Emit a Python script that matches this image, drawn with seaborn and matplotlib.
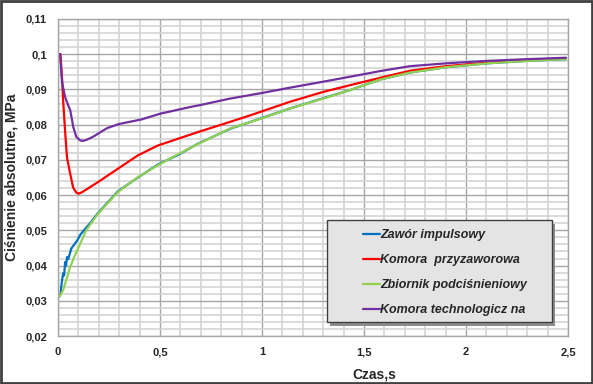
import pandas as pd
import matplotlib.pyplot as plt
import seaborn as sns
from matplotlib.patches import Rectangle
from matplotlib.ticker import MultipleLocator, FuncFormatter

# ----------------------------
# Data
# ----------------------------
t_zawor = [0, 0.005, 0.012, 0.018, 0.025, 0.03, 0.035, 0.04, 0.044, 0.05, 0.065, 0.08,
           0.095, 0.11, 0.13, 0.16, 0.196, 0.294, 0.392, 0.49, 0.588, 0.686, 0.843, 1.0,
           1.137, 1.3, 1.431, 1.578, 1.725, 1.9, 2.1, 2.3, 2.49]
p_zawor = [0.031, 0.0312, 0.0318, 0.035, 0.0378, 0.0372, 0.041, 0.040, 0.0424, 0.0418,
           0.0448, 0.046, 0.0472, 0.0488, 0.0502, 0.0522, 0.0549, 0.0611, 0.065, 0.0687,
           0.0714, 0.0746, 0.0788, 0.0819, 0.0846, 0.0875, 0.0898, 0.0928, 0.0948,
           0.0963, 0.0974, 0.0981, 0.0986]

t_komora_p = [0, 0.012, 0.02, 0.025, 0.035, 0.044, 0.06, 0.074, 0.09, 0.101, 0.12, 0.15,
              0.196, 0.294, 0.392, 0.49, 0.588, 0.686, 0.817, 0.95, 1.137, 1.3, 1.431,
              1.6, 1.725, 1.9, 2.1, 2.3, 2.42]
p_komora_p = [0.1, 0.1, 0.093, 0.087, 0.078, 0.0707, 0.066, 0.0622, 0.0607, 0.0604,
              0.0609, 0.062, 0.0637, 0.0675, 0.0713, 0.0741, 0.076, 0.0779, 0.0803,
              0.0828, 0.0865, 0.0893, 0.0912, 0.0936, 0.0953, 0.0966, 0.0976, 0.0983,
              0.0986]

t_zbiornik = [0, 0.01, 0.025, 0.04, 0.059, 0.08, 0.098, 0.14, 0.196, 0.294, 0.392, 0.49,
              0.588, 0.686, 0.843, 1.0, 1.137, 1.3, 1.431, 1.578, 1.725, 1.9, 2.1, 2.3,
              2.49]
p_zbiornik = [0.031, 0.0315, 0.033, 0.0358, 0.0395, 0.0425, 0.0448, 0.0502, 0.0547,
              0.0609, 0.0651, 0.0685, 0.0716, 0.0745, 0.0789, 0.0818, 0.0846, 0.0874,
              0.0898, 0.0928, 0.0948, 0.0963, 0.0974, 0.0981, 0.0986]

t_komora_t = [0, 0.01, 0.02, 0.035, 0.05, 0.06, 0.075, 0.09, 0.11, 0.123, 0.14, 0.17,
              0.24, 0.3, 0.41, 0.5, 0.647, 0.7, 0.843, 1.0, 1.137, 1.3, 1.431, 1.578,
              1.725, 1.9, 2.1, 2.3, 2.49]
p_komora_t = [0.1, 0.1, 0.092, 0.0878, 0.0855, 0.0841, 0.0793, 0.0765, 0.0755, 0.0754,
              0.0757, 0.0765, 0.079, 0.0802, 0.0815, 0.0831, 0.085, 0.0856, 0.0874,
              0.089, 0.0905, 0.0922, 0.0936, 0.0952, 0.0966, 0.0974, 0.0981, 0.0986,
              0.099]

series_names = ["Zawór impulsowy", "Komora  przyzaworowa",
                "Zbiornik podciśnieniowy", "Komora technologicz na"]
series_colors = ["#0070C0", "#FF0000", "#92D050", "#7030A0"]

x_ticks = [0, 0.5, 1, 1.5, 2, 2.5]
y_ticks = [0.02, 0.03, 0.04, 0.05, 0.06, 0.07, 0.08, 0.09, 0.1, 0.11]

frames = []
for name, t, p in zip(series_names,
                      [t_zawor, t_komora_p, t_zbiornik, t_komora_t],
                      [p_zawor, p_komora_p, p_zbiornik, p_komora_t]):
    frames.append(pd.DataFrame({"czas": t, "cisnienie": p, "seria": name}))
df = pd.concat(frames, ignore_index=True)

# ----------------------------
# Plot
# ----------------------------
sns.set_style("white")
plt.rcParams["font.family"] = ["Liberation Sans Narrow", "Liberation Sans", "DejaVu Sans"]

fig = plt.figure(figsize=(5.93, 3.84), dpi=100)
ax = fig.add_axes([58 / 593, 48 / 384, 510 / 593, 317 / 384])

sns.lineplot(data=df, x="czas", y="cisnienie", hue="seria", hue_order=series_names,
             palette=series_colors, sort=False, estimator=None, linewidth=1.6,
             legend=False, ax=ax)

ax.set_xlim(0, 2.5)
ax.set_ylim(0.02, 0.11)
ax.set_xticks(x_ticks)
ax.set_yticks(y_ticks)
ax.xaxis.set_minor_locator(MultipleLocator(0.1))
ax.yaxis.set_minor_locator(MultipleLocator(0.002))

fmt = FuncFormatter(lambda v, pos: ("%g" % round(v, 3)).replace(".", ","))
ax.xaxis.set_major_formatter(fmt)
ax.yaxis.set_major_formatter(fmt)

ax.grid(which="major", color="#a6a6a6", linewidth=1.0, zorder=0)
ax.grid(which="minor", color="#d4d4d4", linewidth=1.2, zorder=0)
ax.set_axisbelow(True)

for s in ax.spines.values():
    s.set_color("#a6a6a6")
    s.set_linewidth(1.0)

ax.tick_params(axis="both", which="major", length=3, color="#a6a6a6",
               labelsize=8, pad=5)
ax.tick_params(axis="both", which="minor", length=0)
for lab in ax.get_xticklabels() + ax.get_yticklabels():
    lab.set_fontweight("bold")

ax.set_xlabel("Czas,s", fontsize=10, fontweight="bold")
ax.xaxis.set_label_coords((374 - 58) / 510, -0.1)
ax.set_ylabel("Ciśnienie absolutne, MPa", fontsize=10, fontweight="bold")
ax.yaxis.set_label_coords(-0.077, 0.5)

# legend box with shadow
bx, by, bw, bh = 0.527, 0.044, 0.442, 0.322
ax.add_patch(Rectangle((bx + 0.006, by - 0.012), bw, bh, transform=ax.transAxes,
                       facecolor="#8c8c8c", edgecolor="none", zorder=4))
ax.add_patch(Rectangle((bx, by), bw, bh, transform=ax.transAxes,
                       facecolor="#e4e4e4", edgecolor="#404040", linewidth=1.0, zorder=4))

handles = [plt.Line2D([], [], color=c, linewidth=1.6) for c in series_colors]
leg = ax.legend(handles, series_names, loc="upper left", bbox_to_anchor=(0.585, 0.357),
                frameon=False, fontsize=9, handlelength=1.4, handletextpad=0.0,
                labelspacing=1.05, borderpad=0)
for txt in leg.get_texts():
    txt.set_fontweight("bold")
    txt.set_fontstyle("italic")
leg.set_zorder(6)

# outer frame of the chart
fig.patches.append(Rectangle((0.002, 0.003), 0.996, 0.994, transform=fig.transFigure,
                             facecolor="none", edgecolor="#404040", linewidth=2))

fig.savefig("out.png", dpi=100)
plt.close(fig)
